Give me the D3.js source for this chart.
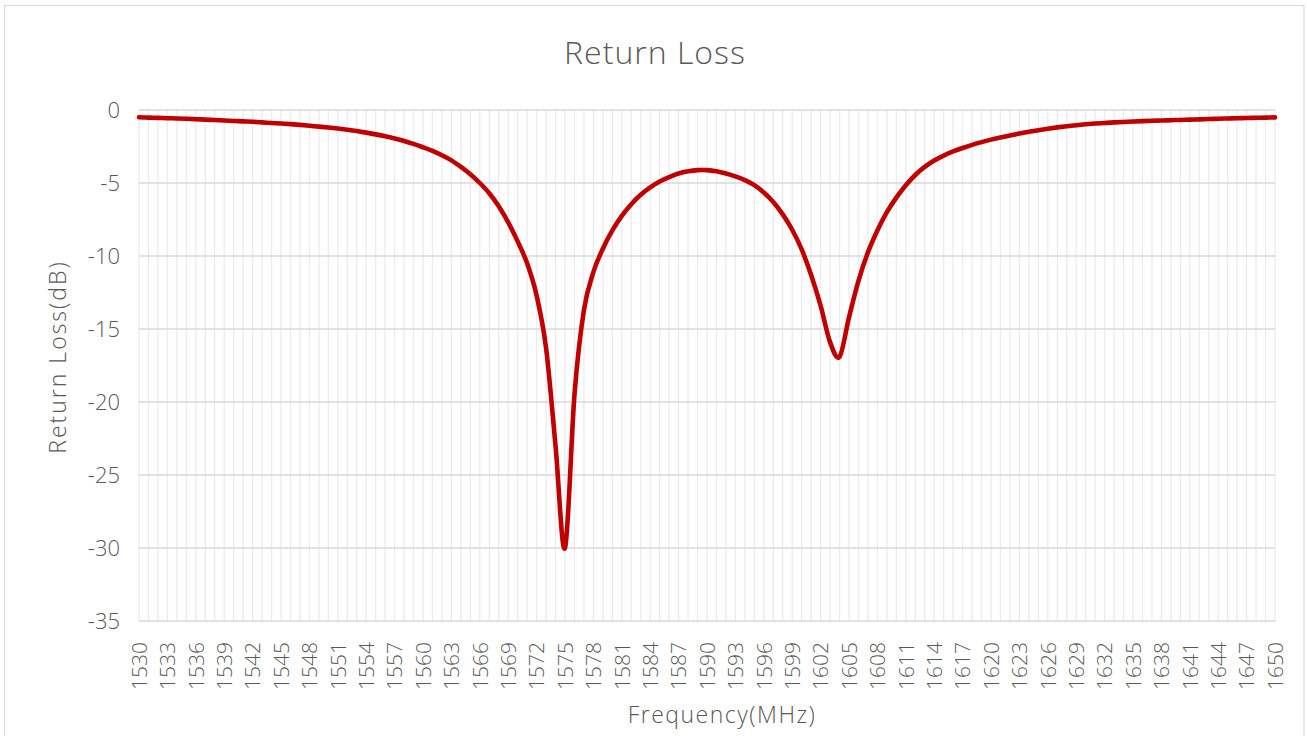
<!DOCTYPE html>
<html><head><meta charset="utf-8">
<script src="https://cdn.jsdelivr.net/npm/d3@7"></script>
<style>
html,body{margin:0;padding:0;background:#fff;}
svg text{font-family:"Open Sans","Noto Sans",sans-serif;font-weight:300;fill:#595959;}
</style></head>
<body><svg id="c" width="1307" height="736"></svg>
<script>
const freqStart = 1530, freqEnd = 1650;
const frequencies = d3.range(freqStart, freqEnd + 1);
const returnLoss = [
 -0.50,-0.52,-0.54,-0.56,-0.58,-0.60,-0.63,-0.66,-0.69,-0.72,
 -0.75,-0.78,-0.81,-0.85,-0.89,-0.93,-0.97,-1.02,-1.08,-1.14,
 -1.20,-1.27,-1.35,-1.44,-1.55,-1.67,-1.80,-1.95,-2.12,-2.32,
 -2.55,-2.80,-3.10,-3.45,-3.90,-4.40,-5.00,-5.70,-6.60,-7.70,
 -9.00,-10.5,-12.7,-16.3,-23.0,-30.0,-19.5,-13.7,-11.1,-9.50,
 -8.25,-7.25,-6.45,-5.80,-5.30,-4.90,-4.60,-4.35,-4.20,-4.12,
 -4.12,-4.20,-4.35,-4.55,-4.80,-5.15,-5.65,-6.30,-7.15,-8.20,
 -9.55,-11.3,-13.4,-15.9,-16.9,-14.2,-11.7,-9.75,-8.25,-7.00,
 -6.00,-5.15,-4.45,-3.90,-3.46,-3.12,-2.84,-2.60,-2.39,-2.20,
 -2.03,-1.88,-1.74,-1.61,-1.49,-1.38,-1.28,-1.19,-1.11,-1.04,
 -0.98,-0.93,-0.89,-0.85,-0.82,-0.79,-0.76,-0.74,-0.72,-0.70,
 -0.68,-0.66,-0.64,-0.62,-0.60,-0.58,-0.565,-0.55,-0.535,-0.52,
 -0.505
];
const yTicks = [0,-5,-10,-15,-20,-25,-30,-35];
const xTickLabels = frequencies.filter(f => (f - freqStart) % 3 === 0);
const chartTitle = "Return Loss";
const xTitle = "Frequency(MHz)";
const yTitle = "Return Loss(dB)";

const svg = d3.select("#c");
const L = 139, R = 1275, T = 110, B = 621;

svg.append("rect").attr("x",4.5).attr("y",5.5).attr("width",1299.5).attr("height",740)
  .attr("fill","#fff").attr("stroke","#d9d9d9").attr("stroke-width",1.2);

const x = d3.scalePoint().domain(frequencies).range([L, R]);
const y = d3.scaleLinear().domain([-35, 0]).range([B, T]);

// vertical grid
svg.append("g").selectAll("line").data(frequencies).join("line")
  .attr("x1", d => x(d)).attr("x2", d => x(d)).attr("y1", T).attr("y2", B)
  .attr("stroke", "#ececec").attr("stroke-width", 1.3);
// horizontal grid
svg.append("g").selectAll("line").data(yTicks).join("line")
  .attr("x1", L).attr("x2", R).attr("y1", d => y(d)).attr("y2", d => y(d))
  .attr("stroke", "#d9d9d9").attr("stroke-width", 1.3);

const FONT = '"Open Sans","Noto Sans",sans-serif';

// y axis labels
const yAxis = d3.axisLeft(y).tickValues(yTicks).tickSize(0).tickPadding(19).tickFormat(d3.format("d"));
const gy = svg.append("g").attr("transform", `translate(${L},0)`).call(yAxis);
gy.select(".domain").remove();
gy.selectAll("text").attr("font-size", 22).attr("fill","#595959")
  .style("font-family",FONT).style("font-weight",300)
  .text(d => d === 0 ? "0" : "-" + Math.abs(d));

// x axis labels
const xAxis = d3.axisBottom(x).tickValues(xTickLabels).tickSize(0).tickPadding(0);
const gx = svg.append("g").attr("transform", `translate(0,${B})`).call(xAxis);
gx.select(".domain").remove();
gx.selectAll("text").attr("font-size", 21).attr("fill","#595959")
  .style("font-family",FONT).style("font-weight",300)
  .attr("text-anchor","end").attr("dy","0.35em").attr("y",0)
  .attr("transform","translate(0,21) rotate(-90)").attr("x",0);

// line
const line = d3.line().x((d,i) => x(frequencies[i])).y(d => y(d)).curve(d3.curveCatmullRom.alpha(0));
svg.append("path").datum(returnLoss).attr("d", line)
  .attr("fill","none").attr("stroke","#c00000").attr("stroke-width",4.6)
  .attr("stroke-linejoin","round").attr("stroke-linecap","round");

// titles
svg.append("text").attr("x", 655).attr("y", 64).attr("text-anchor","middle")
  .attr("font-size", 32).style("letter-spacing","1px").text(chartTitle);
svg.append("text").attr("x", 722).attr("y", 723).attr("text-anchor","middle")
  .attr("font-size", 23).style("letter-spacing","1.5px").text(xTitle);
svg.append("text").attr("transform","translate(66,357) rotate(-90)").attr("text-anchor","middle")
  .attr("font-size", 23).style("letter-spacing","2px").text(yTitle);
</script></body></html>
